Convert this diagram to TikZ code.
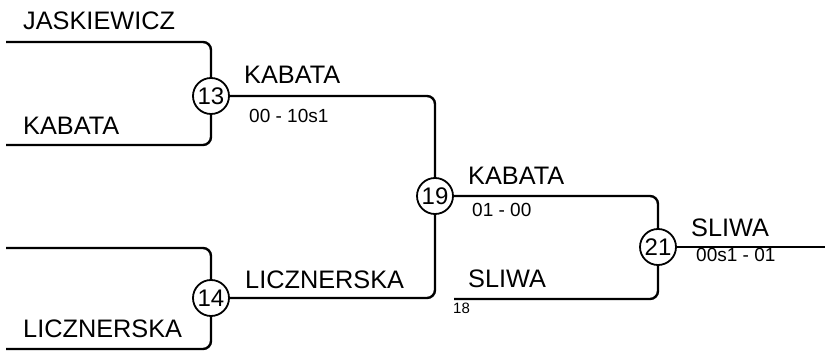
\documentclass[tikz,border=0pt]{standalone}
\usepackage{fontspec}
\setmainfont{Liberation Sans}
\tikzset{
  bout/.style={draw, circle, line width=1.8pt, minimum size=36pt, inner sep=0pt, fill=white, font=\fontsize{24}{24}\selectfont},
  fencer/.style={anchor=base west, inner sep=0pt, font=\fontsize{25.3}{25.3}\selectfont},
  score/.style={anchor=base west, inner sep=0pt, font=\fontsize{19}{19}\selectfont},
  seed/.style={anchor=base west, inner sep=0pt, font=\fontsize{15}{15}\selectfont},
  wire/.style={line width=2.4pt, rounded corners=8pt}
}
\begin{document}
\begin{tikzpicture}[x=1pt,y=-1pt]
\useasboundingbox (0,0) rectangle (825,352);

% bouts
\node[bout] (b13) at (211,96) {13};
\node[bout] (b14) at (211,298) {14};
\node[bout] (b19) at (435,196) {19};
\node[bout] (b21) at (658,247) {21};

% free ends
\coordinate (jas) at (6,42);
\coordinate (kab) at (6,145);
\coordinate (lic0) at (6,248);
\coordinate (lic) at (6,349);
\coordinate (sli) at (454,299);
\coordinate (out) at (825,247);

\draw[wire] (jas) -| (b13);
\draw[wire] (kab) -| (b13);
\draw[wire] (lic0) -| (b14);
\draw[wire] (lic) -| (b14);
\draw[wire] (b13) -| (b19);
\draw[wire] (b14) -| (b19);
\draw[wire] (b19) -| (b21);
\draw[wire] (sli) -| (b21);
\draw[wire] (b21) -- (out);

% names
\node[fencer] (n1) at (23,30) {JASKIEWICZ};
\node[fencer] (n2) at (23,135) {KABATA};
\node[fencer] (n3) at (23,338) {LICZNERSKA};
\node[fencer] (n4) at (244,84) {KABATA};
\node[fencer] (n5) at (245,289) {LICZNERSKA};
\node[fencer] (n6) at (468,185) {KABATA};
\node[fencer] (n7) at (468,288) {SLIWA};
\node[fencer] (n8) at (691,237) {SLIWA};

% scores
\node[score] (s1) at (249,123) {00 - 10s1};
\node[score] (s2) at (472,217) {01 - 00};
\node[score] (s3) at (696,262) {00s1 - 01};
\node[seed] (s4) at (453,314) {18};

\end{tikzpicture}
\end{document}
